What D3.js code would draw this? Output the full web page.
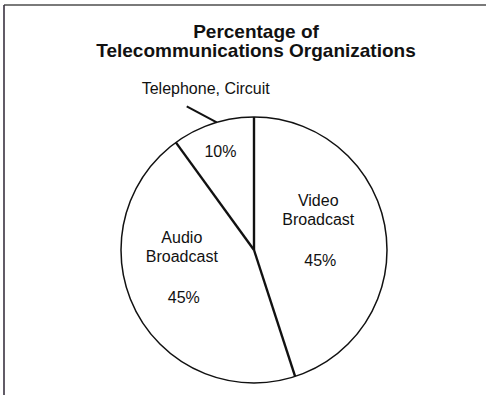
<!DOCTYPE html>
<html>
<head>
<meta charset="utf-8">
<script src="https://cdn.jsdelivr.net/npm/d3@7"></script>
<style>
  html, body { margin: 0; padding: 0; background: #fff; }
  svg { display: block; }
  text { font-family: "Liberation Sans", Arial, Helvetica, sans-serif; fill: #111; }
</style>
</head>
<body>
<svg class="vis" width="486" height="395"></svg>
<script>
// chart data
const titleLines = ['Percentage of', 'Telecommunications Organizations'];
const categories = ['Video Broadcast', 'Audio Broadcast', 'Telephone, Circuit'];
const shares = [45, 45, 10];

const w = 486, h = 395;
const cx = 254, cy = 250, R = 133;

const svg = d3.select('svg.vis');

// frame (top and left edges of the scanned box)
svg.append('line')
  .attr('x1', 4).attr('x2', w).attr('y1', 5).attr('y2', 5)
  .attr('stroke', '#7a7a7a').attr('stroke-width', 2);
svg.append('line')
  .attr('x1', 4).attr('x2', 4).attr('y1', 5).attr('y2', h)
  .attr('stroke', '#3a3340').attr('stroke-width', 1.6);

// title
svg.append('g')
  .selectAll('text')
  .data(titleLines)
  .join('text')
  .attr('x', 256)
  .attr('y', (d, i) => 38 + i * 19)
  .attr('text-anchor', 'middle')
  .attr('font-size', 19)
  .attr('font-weight', 'bold')
  .text(d => d);

const pie = d3.pie().sort(null).value(d => d.v);
const arcs = pie(categories.map((c, i) => ({ name: c, v: shares[i] })));

const g = svg.append('g').attr('transform', `translate(${cx},${cy})`);

// slices
g.selectAll('path.slice')
  .data(arcs)
  .join('path')
  .classed('slice', true)
  .attr('d', d3.arc().innerRadius(0).outerRadius(R))
  .attr('fill', '#fff')
  .attr('stroke', 'none');

// dividing radii (drawn heavier than the rim)
g.selectAll('line.div')
  .data(arcs)
  .join('line')
  .classed('div', true)
  .attr('x1', 0).attr('y1', 0)
  .attr('x2', d => R * Math.sin(d.startAngle))
  .attr('y2', d => -R * Math.cos(d.startAngle))
  .attr('stroke', '#111')
  .attr('stroke-width', 2.4);

// rim
g.append('circle')
  .attr('r', R)
  .attr('fill', 'none')
  .attr('stroke', '#111')
  .attr('stroke-width', 1.5);

// labels
const fs = 16;
const inner = d => d.data.v >= 20;
const labelArc = d => d3.arc().innerRadius(0).outerRadius(inner(d) ? R * 1.1 : R * 1.44);
const shift = {
  'Video Broadcast': [-8, -33],
  'Audio Broadcast': [-7, -40],
  'Telephone, Circuit': [-4, -2]
};

const lab = g.selectAll('g.lab')
  .data(arcs)
  .join('g')
  .classed('lab', true)
  .attr('transform', d => {
    const c = labelArc(d).centroid(d);
    const s = shift[d.data.name];
    return `translate(${c[0] + s[0]},${c[1] + s[1]})`;
  });

lab.filter(inner).each(function (d) {
  const words = d.data.name.split(' ');
  const t = d3.select(this);
  words.forEach((wd, i) => {
    t.append('text')
      .attr('y', i * 19)
      .attr('text-anchor', 'middle')
      .attr('font-size', fs)
      .text(wd);
  });
  t.append('text')
    .attr('x', 2)
    .attr('y', (words.length - 1) * 19 + 41)
    .attr('text-anchor', 'middle')
    .attr('font-size', fs)
    .text(d.data.v + '%');
});

// small slice: value inside, name outside with a leader
lab.filter(d => !inner(d))
  .append('text')
  .attr('text-anchor', 'middle')
  .attr('font-size', fs)
  .text(d => d.data.v + '%');

const small = arcs.filter(d => !inner(d));
small.forEach(d => {
  const a = (d.startAngle + d.endAngle) / 2 + 0.03;
  const px = R * Math.sin(a), py = -R * Math.cos(a);
  g.append('line')
    .attr('x1', px).attr('y1', py)
    .attr('x2', px - 30).attr('y2', py - 16)
    .attr('stroke', '#111')
    .attr('stroke-width', 2);
  g.append('text')
    .attr('x', px - 11)
    .attr('y', py - 28)
    .attr('text-anchor', 'middle')
    .attr('font-size', fs)
    .text(d.data.name);
});
</script>
</body>
</html>
